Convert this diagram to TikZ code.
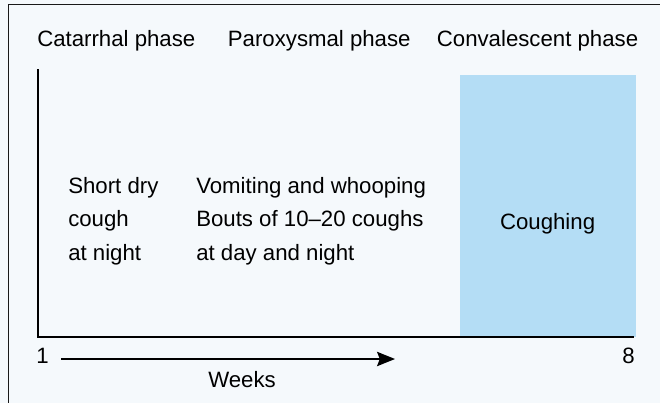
\documentclass[tikz,border=0pt]{standalone}
\usepackage{fontspec}
\setmainfont{Liberation Sans}
\usepackage{xcolor}
\usepackage{tikz}
\usetikzlibrary{arrows.meta}

\definecolor{pagebg}{RGB}{245,249,252}
\definecolor{coughblue}{RGB}{180,221,245}

\begin{document}
\begin{tikzpicture}[
    font=\fontsize{15.8}{19}\selectfont,
    lbl/.style={inner sep=0pt, anchor=base west},
    axisline/.style={line width=1.4pt},
    weekarrow/.style={line width=1pt, -{Stealth[length=0.45cm, width=0.36cm, inset=0.07cm]}}]
  \fill[pagebg] (0,0) rectangle (16.5,-10.075);
  \useasboundingbox (0,0) rectangle (16.5,-10.075);
  \draw[line width=1pt, black!90] (16.6,-0.1175) -- (0.2175,-0.1175) -- (0.2175,-10.2);
  % phases
  \node[lbl] (catarrhal) at (0.925,-1.15) {Catarrhal phase};
  \node[lbl] (paroxysmal) at (5.69,-1.15) {Paroxysmal phase};
  \node[lbl] (convalescent) at (10.915,-1.15) {Convalescent phase};
  % convalescent block
  \fill[coughblue] (11.5,-1.875) rectangle (15.9,-8.425);
  \node[inner sep=0pt, anchor=base] (coughing) at (13.69,-5.725) {Coughing};
  % axes
  \coordinate (origin) at (0.95,-8.425);
  \coordinate (ytop) at (0.95,-1.725);
  \coordinate (xend) at (15.85,-8.425);
  \draw[axisline] (ytop) -- (origin) -- (xend);
  % symptoms
  \node[lbl] (short) at (1.7,-4.825) {Short dry};
  \node[lbl] (cough) at (1.7,-5.66) {cough};
  \node[lbl] (night) at (1.7,-6.5) {at night};
  \node[lbl] (vomiting) at (4.9,-4.825) {Vomiting and whooping};
  \node[lbl] (bouts) at (4.9,-5.66) {Bouts of 10–20 coughs};
  \node[lbl] (daynight) at (4.9,-6.5) {at day and night};
  % time scale
  \node[lbl] (one) at (0.9,-9.075) {1};
  \node[inner sep=0pt, anchor=base east] (eight) at (15.875,-9.075) {8};
  \coordinate (wkstart) at (1.525,-8.975);
  \coordinate (wkend) at (9.875,-8.975);
  \draw[weekarrow] (wkstart) -- (wkend);
  \node[lbl] (weeks) at (5.2,-9.675) {Weeks};
\end{tikzpicture}
\end{document}
